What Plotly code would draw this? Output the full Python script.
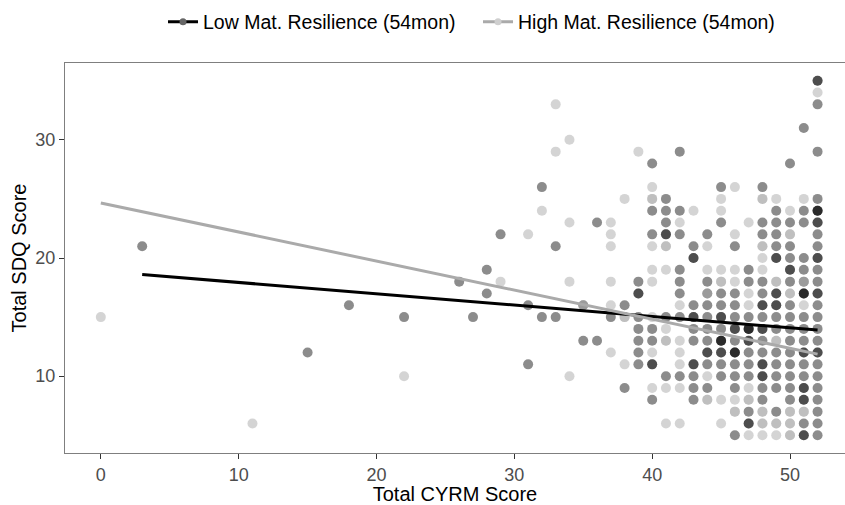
import plotly.graph_objects as go

# ---- data -------------------------------------------------------------
# SDQ levels and the CYRM scores observed at each level, per group
low_sdq_levels = [35, 33, 31, 29, 28, 26, 25, 24, 23, 22, 21, 20, 19, 18, 17,
                  16, 15, 14, 13, 12, 11, 10, 9, 8, 7, 6, 5]
low_cyrm_by_level = [
    [52, 52],
    [52],
    [51],
    [42, 52],
    [40, 50],
    [32, 45, 48],
    [41, 52],
    [40, 41, 42, 49, 51, 52, 52, 52],
    [36, 41, 45, 48, 49, 50, 51, 52, 52],
    [29, 40, 41, 41, 42, 44, 48, 49, 52],
    [3, 33, 43, 46, 49, 50, 52],
    [43, 43, 49, 49, 50, 51, 52, 52],
    [28, 42, 47, 50, 50, 51, 52],
    [26, 39, 42, 44, 47, 48, 50, 51, 52],
    [28, 39, 39, 42, 44, 45, 46, 48, 49, 49, 51, 51, 51, 52, 52],
    [18, 31, 35, 38, 43, 44, 45, 46, 48, 48, 49, 49, 50, 52],
    [22, 27, 32, 33, 37, 39, 41, 42, 43, 43, 44, 45, 45, 46, 47, 48, 49, 50, 51, 52],
    [39, 40, 43, 44, 45, 46, 46, 47, 47, 47, 48, 48, 49, 50, 51, 52],
    [35, 36, 39, 40, 43, 44, 45, 45, 45, 46, 47, 47, 48, 50, 51, 52],
    [15, 39, 44, 44, 45, 45, 46, 46, 46, 47, 48, 49, 50, 51, 51, 52, 52],
    [31, 39, 40, 40, 43, 43, 44, 45, 46, 47, 48, 48, 49, 50, 51, 52],
    [41, 42, 43, 45, 46, 47, 48, 48, 49, 50, 51, 52],
    [38, 43, 44, 46, 48, 49, 50, 51, 51, 52],
    [40, 43, 48, 50, 51, 51, 52],
    [47, 49, 52],
    [47, 47, 51, 52],
    [46, 51, 51, 52],
]

high_sdq_levels = [34, 33, 30, 29, 26, 25, 24, 23, 22, 21, 20, 19, 18, 17, 16,
                   15, 14, 13, 12, 11, 10, 9, 8, 7, 6, 5]
high_cyrm_by_level = [
    [52],
    [33],
    [34],
    [33, 39],
    [40, 46],
    [38, 40, 40, 45, 48, 48, 49, 51],
    [32, 43, 45, 50],
    [34, 37, 42, 47],
    [31, 37, 46, 50, 50],
    [37, 40, 41, 41, 44, 48, 48],
    [48],
    [40, 41, 44, 45, 46, 48],
    [29, 34, 37, 40, 45, 45, 46, 49, 49, 51],
    [44, 47, 50, 50],
    [35, 37, 42, 47, 51],
    [0, 38, 38, 40],
    [41],
    [41, 41, 42, 49, 49],
    [37, 40, 42],
    [38, 42],
    [22, 34, 44],
    [40, 41, 42, 47],
    [44, 44, 45, 46, 47, 47],
    [46, 46, 48, 48, 50, 50, 51, 51],
    [11, 41, 42, 45, 48, 48, 49, 49, 50, 50],
    [47, 48, 49, 50, 50],
]

# linear fits (intercept, slope) of SDQ on CYRM for each group
low_fit = (18.89, -0.0959)
high_fit = (24.66, -0.246)

group_names = ["Low Mat. Resilience (54mon)", "High Mat. Resilience (54mon)"]


def flatten(levels, by_level):
    xs, ys = [], []
    for lvl, row in zip(levels, by_level):
        for v in row:
            xs.append(v)
            ys.append(lvl)
    return xs, ys


low_x, low_y = flatten(low_sdq_levels, low_cyrm_by_level)
high_x, high_y = flatten(high_sdq_levels, high_cyrm_by_level)

# ---- styling ----------------------------------------------------------
LOW_PT = "rgba(0,0,0,0.45)"
HIGH_PT = "rgba(170,170,170,0.5)"
LOW_LINE = "#000000"
HIGH_LINE = "#aaaaaa"
FONT = "Liberation Sans, Arial, Helvetica, sans-serif"

fig = go.Figure()

fig.add_trace(go.Scatter(x=low_x, y=low_y, mode="markers",
                         marker=dict(color=LOW_PT, size=10, line=dict(width=0)),
                         showlegend=False, hoverinfo="x+y"))
fig.add_trace(go.Scatter(x=high_x, y=high_y, mode="markers",
                         marker=dict(color=HIGH_PT, size=10, line=dict(width=0)),
                         showlegend=False, hoverinfo="x+y"))


def fit_line(xs, fit):
    x0, x1 = min(xs), max(xs)
    a, b = fit
    return [x0, x1], [a + b * x0, a + b * x1]


lx, ly = fit_line(low_x, low_fit)
hx, hy = fit_line(high_x, high_fit)
fig.add_trace(go.Scatter(x=lx, y=ly, mode="lines",
                         line=dict(color=LOW_LINE, width=3), showlegend=False))
fig.add_trace(go.Scatter(x=hx, y=hy, mode="lines",
                         line=dict(color=HIGH_LINE, width=3), showlegend=False))

# legend keys: line with a point on it
fig.add_trace(go.Scatter(x=[None], y=[None], mode="lines+markers", name=group_names[0],
                         line=dict(color=LOW_LINE, width=3),
                         marker=dict(color="#666666", size=7)))
fig.add_trace(go.Scatter(x=[None], y=[None], mode="lines+markers", name=group_names[1],
                         line=dict(color=HIGH_LINE, width=3),
                         marker=dict(color="#cfcfcf", size=7)))

fig.update_layout(
    width=845, height=505,
    margin=dict(l=65, r=0, t=63, b=52),
    plot_bgcolor="white", paper_bgcolor="white",
    font=dict(family=FONT, size=18, color="#000000"),
    legend=dict(orientation="h", x=0.5295, xanchor="center", y=1.105, yanchor="middle",
                font=dict(size=19.5, color="#000000"), itemwidth=30,
                entrywidth=270, entrywidthmode="pixels",
                bgcolor="rgba(0,0,0,0)"),
    xaxis=dict(range=[-2.6, 53.99], tickvals=[0, 10, 20, 30, 40, 50],
               showgrid=False, zeroline=False, showline=True, mirror=True,
               linecolor="#7f7f7f", linewidth=1.2,
               ticks="outside", ticklen=5, tickcolor="#333333",
               tickfont=dict(size=18, color="#4d4d4d"),
               title=dict(text="Total CYRM Score", font=dict(size=20, color="#000000"),
                          standoff=4)),
    yaxis=dict(range=[3.5, 36.5], tickvals=[10, 20, 30],
               showgrid=False, zeroline=False, showline=True, mirror=False,
               linecolor="#7f7f7f", linewidth=1.2,
               ticks="outside", ticklen=5, tickcolor="#333333",
               tickfont=dict(size=18, color="#4d4d4d"),
               title=dict(text="Total SDQ Score", font=dict(size=20, color="#000000"),
                          standoff=3)),
)

fig.write_html("out.html")
